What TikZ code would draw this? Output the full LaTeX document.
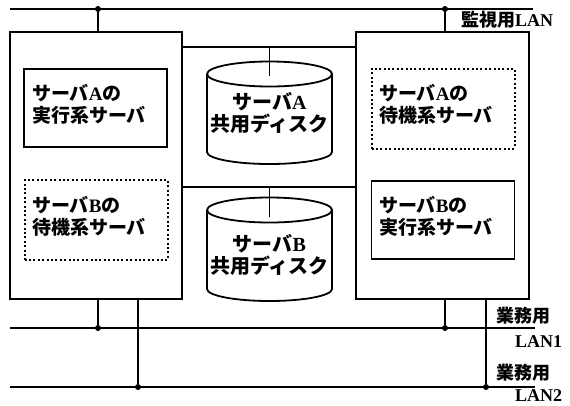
\documentclass[tikz,border=0pt]{standalone}
\usepackage{fontspec}
\setmainfont{Liberation Serif}
\newfontfamily\cjk{Noto Sans CJK JP Bold}
\newcommand\J[1]{{\cjk #1}}
\begin{document}
\begin{tikzpicture}[x=1pt,y=-1pt,
  every node/.style={inner sep=0pt,outer sep=0pt},
  wire/.style={line width=1.7pt},
  frame/.style={draw,line width=1.8pt,rectangle},
  solidbox/.style={draw,line width=1.8pt,rectangle,minimum width=143pt,minimum height=78pt},
  dotbox/.style={draw,line width=2pt,dash pattern=on 2pt off 2.4pt,rectangle,minimum width=143pt,minimum height=80pt},
  txt/.style={font=\fontsize{19}{22}\selectfont\bfseries,align=left},
  ctxt/.style={font=\fontsize{20}{22}\selectfont\bfseries,align=center},
  lbl/.style={font=\fontsize{18}{20}\selectfont\bfseries,anchor=west},
  jdot/.style={circle,fill,minimum size=6pt}
]
\useasboundingbox (0,0) rectangle (570,405);

% server frames
\node[frame,minimum width=172pt,minimum height=267pt] (srvL) at (96,165.5) {};
\node[frame,minimum width=173pt,minimum height=267pt] (srvR) at (442.5,165.5) {};

% inner boxes
\node[solidbox] (aAct) at (95.5,108) {};
\node[txt,anchor=west] (aActT) at (32,104) {\J{サーバ}A\J{の}\\\J{実行系サーバ}};
\node[dotbox] (bStb) at (96,220) {};
\node[txt,anchor=west] (bStbT) at (32,216) {\J{サーバ}B\J{の}\\\J{待機系サーバ}};
\node[dotbox] (aStb) at (443,108.5) {};
\node[txt,anchor=west] (aStbT) at (379,104) {\J{サーバ}A\J{の}\\\J{待機系サーバ}};
\node[solidbox] (bAct) at (443,220) {};
\node[txt,anchor=west] (bActT) at (379,216) {\J{サーバ}B\J{の}\\\J{実行系サーバ}};

% disks
\draw[line width=1.8pt] (207,74) arc[start angle=180,end angle=-180,x radius=62.5,y radius=12.5]
  (207,74) -- (207,152) arc[start angle=180,end angle=0,x radius=62.5,y radius=12] -- (332,74);
\node[ctxt] (diskA) at (269.5,113) {\J{サーバ}A\\\J{共用ディスク}};
\draw[line width=1.8pt] (207,210) arc[start angle=180,end angle=-180,x radius=62.5,y radius=12.5]
  (207,210) -- (207,289) arc[start angle=180,end angle=0,x radius=62.5,y radius=12] -- (332,210);
\node[ctxt] (diskB) at (269.5,255) {\J{サーバ}B\\\J{共用ディスク}};

\coordinate (dA) at (269.5,76);
\coordinate (dB) at (269.5,217);

% shared disk connections
\draw[wire] (srvL.east |- 0,47) coordinate (mA) -- (srvR.west |- 0,47);
\draw[wire] (dA |- mA) -- (dA);
\draw[wire] (srvL.east |- 0,187) coordinate (mB) -- (srvR.west |- 0,187);
\draw[wire] (dB |- mB) -- (dB);

% monitoring LAN
\coordinate (monL) at (10,9);
\coordinate (monR) at (533,9);
\draw[wire] (monL) -- (monR);
\node[jdot] (m1) at (98,9) {};
\node[jdot] (m2) at (445,9) {};
\draw[wire] (m1) -- (m1 |- srvL.north);
\draw[wire] (m2) -- (m2 |- srvR.north);
\node[lbl] (monT) at (461,20) {\J{監視用}LAN};

% business LANs
\coordinate (l1L) at (10,328);
\coordinate (l1R) at (535,328);
\coordinate (l2L) at (10,387);
\coordinate (l2R) at (535,387);
\draw[wire] (l1L) -- (l1R);
\draw[wire] (l2L) -- (l2R);
\node[jdot] (a1) at (98,328) {};
\node[jdot] (a2) at (138,387) {};
\node[jdot] (b1) at (445,328) {};
\node[jdot] (b2) at (486,387) {};
\draw[wire] (a1) -- (a1 |- srvL.south);
\draw[wire] (a2) -- (a2 |- srvL.south);
\draw[wire] (b1) -- (b1 |- srvR.south);
\draw[wire] (b2) -- (b2 |- srvR.south);
\node[lbl] (l1T) at (496,316) {\J{業務用}};
\node[lbl] (l1N) at (515,342) {LAN1};
\node[lbl] (l2T) at (496,373) {\J{業務用}};
\node[lbl] (l2N) at (515,396) {LAN2};
\end{tikzpicture}
\end{document}
